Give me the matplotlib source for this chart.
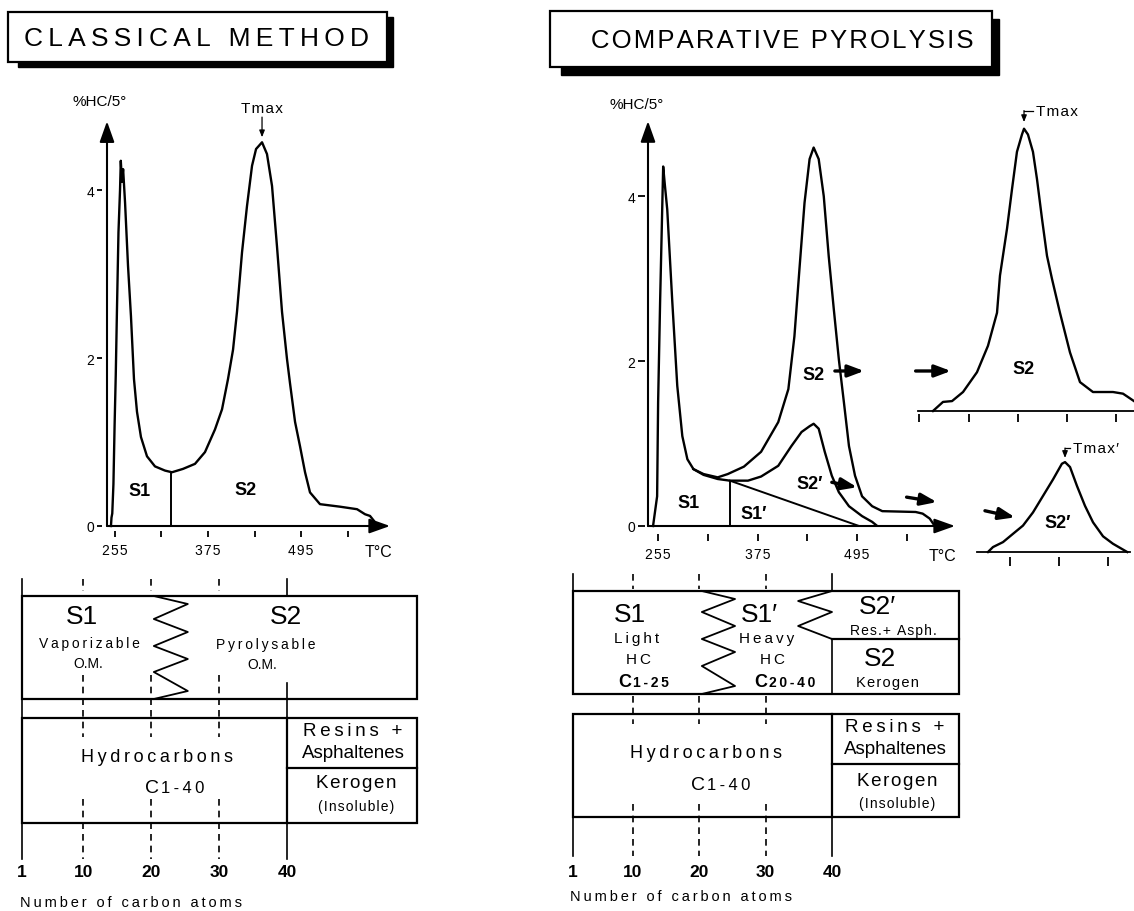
import matplotlib
matplotlib.use("Agg")
import matplotlib.pyplot as plt
from matplotlib.patches import Rectangle

plt.rcParams["font.family"] = ["Liberation Sans", "DejaVu Sans"]

W, H = 1134, 912
NARROW = ["Liberation Sans Narrow", "Liberation Sans", "DejaVu Sans"]
THIN, HAIR = "\u2009", "\u200a"

# ---------------- pyrograms: temperature (deg C) vs %HC / 5 deg ----------------
classic_T = [249.8, 250.5, 251.5, 253.0, 254.5, 256.0, 257.6, 259.5, 261.5, 262.5,
             264.0, 265.5, 268.0, 271.8, 275.6, 279.5, 283.4, 288.5, 296.3, 306.6,
             319.5, 328.5, 342.7, 358.2, 371.1, 384.0, 393.1, 400.8, 407.3, 412.4,
             418.9, 425.3, 431.8, 437.0, 444.7, 451.1, 457.6, 464.0, 470.5, 476.9,
             480.8, 487.3, 493.7, 500.2, 506.6, 519.5, 545.3, 567.3, 577.6, 584.0,
             589.2, 593.1]
classic_hc = [0.0, 0.1, 0.15, 0.5, 1.2, 1.8, 2.6, 3.5, 4.0, 4.35,
              4.1, 4.25, 3.85, 3.1, 2.5, 1.75, 1.36, 1.06, 0.83, 0.71,
              0.66, 0.64, 0.68, 0.74, 0.88, 1.15, 1.39, 1.75, 2.1, 2.55,
              3.26, 3.81, 4.29, 4.49, 4.57, 4.43, 4.05, 3.33, 2.55, 1.99,
              1.7, 1.24, 0.95, 0.64, 0.4, 0.26, 0.23, 0.2, 0.14, 0.12,
              0.06, 0.0]
classic_split_T = 327
classic_split_hc = 0.64
classic_tmax = (444.7, 4.57)

comp_total_T = [248.9, 253.8, 255.0, 257.4, 261.1, 263.0, 266.0, 272.1, 278.1, 284.2,
                290.3, 297.6, 309.8, 326.9, 339.0, 358.5, 379.2, 399.9, 412.1, 419.4,
                425.5, 431.6, 437.7, 442.6, 448.7, 454.8, 460.8, 466.9, 473.0, 479.1,
                485.2, 492.5, 501.0, 513.2, 525.4, 565.6, 574.1, 582.6, 588.7]
comp_total_hc = [0.0, 0.36, 1.5, 2.72, 4.36, 4.15, 3.84, 2.72, 1.70, 1.09,
                 0.81, 0.69, 0.63, 0.59, 0.63, 0.72, 0.90, 1.26, 1.66, 2.30,
                 3.12, 3.92, 4.45, 4.59, 4.45, 4.0, 3.27, 2.63, 2.02, 1.50,
                 0.97, 0.61, 0.36, 0.24, 0.18, 0.17, 0.15, 0.09, 0.0]
comp_heavy_T = [297.6, 309.8, 326.9, 341.5, 363.4, 379.2, 399.9, 415.8, 428.0, 437.7,
                442.6, 448.7, 456.0, 464.5, 473.0, 485.2, 501.0, 513.2, 519.3]
comp_heavy_hc = [0.69, 0.62, 0.57, 0.55, 0.55, 0.60, 0.73, 0.97, 1.14, 1.21,
                 1.24, 1.18, 0.90, 0.61, 0.41, 0.24, 0.12, 0.05, 0.0]
comp_split_T = 341.5
comp_split_hc = 0.55
comp_diag_end_T = 497.4

# magnified S2 and S2' peaks
inset_s2_T = [331.7, 343.9, 354.9, 368.3, 385.3, 398.7, 409.7, 413.3, 421.9, 428.0,
              434.0, 440.1, 442.6, 447.4, 453.5, 458.4, 464.5, 470.6, 476.7, 486.4,
              498.6, 510.8, 526.6, 551.0, 563.2, 569.2, 576.6]
inset_s2_hc = [0.0, 0.11, 0.12, 0.23, 0.47, 0.79, 1.19, 1.64, 2.21, 2.69,
               3.14, 3.35, 3.42, 3.35, 3.14, 2.81, 2.33, 1.88, 1.60, 1.19,
               0.71, 0.35, 0.23, 0.23, 0.21, 0.17, 0.12]
inset_s2p_T = [348.8, 354.9, 367.1, 379.2, 391.4, 403.6, 415.8, 428.0, 438.8, 442.6,
               448.7, 457.2, 466.9, 476.7, 488.9, 501.0, 518.3]
inset_s2p_hc = [0.0, 0.06, 0.12, 0.22, 0.32, 0.48, 0.68, 0.88, 1.07, 1.09,
                1.03, 0.80, 0.56, 0.36, 0.19, 0.10, 0.0]

temp_ticks = [255, 315, 375, 435, 495, 555]
temp_labels = ["255", "", "375", "", "495", ""]
hc_ticks = [0, 2, 4]

# ---------------- carbon-number boxes ----------------
carbon_ticks = [1, 10, 20, 30, 40]


def spaced(s, gap=THIN):
    return gap.join(s)


fig = plt.figure(figsize=(W / 100, H / 100), dpi=100)


def px_axes(x0, y0, x1, y1):
    ax = fig.add_axes([x0 / W, 1 - y1 / H, (x1 - x0) / W, (y1 - y0) / H])
    ax.patch.set_visible(False)
    return ax


AX_ARROW = dict(arrowstyle="-|>,head_length=0.9,head_width=0.32", lw=1.5,
                color="black", shrinkA=0, shrinkB=0, mutation_scale=14)
BOLD_ARROW = dict(arrowstyle="-|>,head_length=0.8,head_width=0.3", lw=2.4,
                  color="black", shrinkA=0, shrinkB=0, mutation_scale=12)
SMALL_ARROW = dict(arrowstyle="-|>,head_length=0.5,head_width=0.2", lw=0.9,
                   color="black", shrinkA=0, shrinkB=0, mutation_scale=8)


def style_chart(ax, xlim, ytop, yarrow, x_out, x_len, y_out, y_len):
    ax.set_xticks(temp_ticks, [spaced(t, HAIR) for t in temp_labels], fontsize=11)
    ax.set_yticks(hc_ticks, [str(v) for v in hc_ticks], fontsize=11)
    ax.set_xlim(xlim)
    ax.set_ylim(0, ytop)
    for side in ["top", "right", "bottom", "left"]:
        ax.spines[side].set_visible(False)
    ax.spines["bottom"].set_position(("outward", x_out * 0.72))
    ax.spines["left"].set_position(("outward", y_out * 0.72))
    ax.tick_params(axis="x", length=x_len * 0.72, width=1.3, pad=4)
    ax.tick_params(axis="y", length=y_len * 0.72, width=1.3, pad=2)
    ax.annotate("", xy=(xlim[1], 0), xytext=(xlim[0], 0),
                arrowprops=AX_ARROW, annotation_clip=False)
    ax.annotate("", xy=(xlim[0], yarrow), xytext=(xlim[0], 0),
                arrowprops=AX_ARROW, annotation_clip=False)


def style_inset(ax, xlim, ytop, base, out, length):
    ticks = [t for t in temp_ticks if xlim[0] <= t <= xlim[1]]
    ax.set_xticks(ticks, [""] * len(ticks))
    ax.set_yticks([])
    ax.set_xlim(xlim)
    ax.set_ylim(0, ytop)
    for side in ["top", "right", "bottom", "left"]:
        ax.spines[side].set_visible(False)
    ax.spines["bottom"].set_position(("outward", out * 0.72))
    ax.tick_params(axis="x", length=length * 0.72, width=1.3)
    ax.plot(base, [0, 0], color="black", lw=1.3, clip_on=False)


def chart_label(ax, x, y, s):
    ax.text(x, y, s, ha="center", va="center", fontsize=13,
            fontweight="bold", family=NARROW)


def tmax_bracket(ax, x, y_top, y_tip, x_right, text):
    ax.plot([x, x_right], [y_top, y_top], color="black", lw=0.9, clip_on=False)
    ax.annotate("", xy=(x, y_tip), xytext=(x, y_top), annotation_clip=False,
                arrowprops=SMALL_ARROW)
    ax.text(x_right + 4, y_top, spaced(text, HAIR), ha="left", va="center",
            fontsize=11)


# ---------------- title boxes ----------------
axO = fig.add_axes([0, 0, 1, 1])
axO.set_xlim(0, W)
axO.set_ylim(H, 0)
axO.axis("off")
for (x0, y0, x1, y1, dx, dy, tx, title, size, gap) in [
        (8, 13, 387, 63, 6, 5, 197, "CLASSICAL METHOD", 19, THIN),
        (550, 12, 992, 68, 7, 8, 782, "COMPARATIVE PYROLYSIS", 18.5, HAIR)]:
    axO.add_patch(Rectangle((x0 + dx + 4, y0 + dy), x1 - x0 - 4, y1 - y0,
                            facecolor="black", edgecolor="black"))
    axO.add_patch(Rectangle((x0, y0), x1 - x0, y1 - y0, facecolor="white",
                            edgecolor="black", lw=1.6))
    axO.text(tx, (y0 + y1) / 2 + 1, spaced(title, gap), ha="center",
             va="center", fontsize=size)

# ---------------- classical pyrogram ----------------
axL = px_axes(107, 82, 390, 527)
style_chart(axL, (244.7, 609.8), 5.3, 4.82, 5, 6, 5, 5)
axL.plot(classic_T, classic_hc, color="black", lw=1.7, clip_on=False)
axL.plot([classic_split_T, classic_split_T], [0, classic_split_hc],
         color="black", lw=1.4)
chart_label(axL, 287, 0.42, "S1")
chart_label(axL, 423, 0.44, "S2")
axL.text(235.6, 5.06, "%HC/5°", ha="center", va="center", fontsize=11)
axL.text(594.4, -0.30, "T°C", ha="center", va="center", fontsize=11.5)
axL.text(classic_tmax[0], 4.98, spaced("Tmax", HAIR), ha="center", va="center",
         fontsize=11)
axL.annotate("", xy=(classic_tmax[0], 4.63), xytext=(classic_tmax[0], 4.87),
             arrowprops=SMALL_ARROW)

# ---------------- comparative pyrogram ----------------
axR = px_axes(648, 90, 955, 527)
style_chart(axR, (242.8, 613.1), 5.3, 4.91, 8, 7, 3, 7)
axR.plot(comp_total_T, comp_total_hc, color="black", lw=1.7, clip_on=False)
axR.plot(comp_heavy_T, comp_heavy_hc, color="black", lw=1.7)
axR.plot([comp_split_T, comp_split_T], [0, comp_split_hc], color="black", lw=1.4)
axR.plot([comp_split_T, comp_diag_end_T], [comp_split_hc, 0], color="black", lw=1.4)
chart_label(axR, 291.5, 0.29, "S1")
chart_label(axR, 370.7, 0.15, "S1\u2032")
chart_label(axR, 437.7, 0.51, "S2\u2032")
chart_label(axR, 442.6, 1.84, "S2")
axR.text(229.4, 5.12, "%HC/5°", ha="center", va="center", fontsize=11)
axR.text(598.5, -0.36, "T°C", ha="center", va="center", fontsize=11.5)
for (xa, ya, xb, yb) in [(468.2, 1.88, 503.5, 1.88), (565.6, 1.88, 608.2, 1.88),
                         (464.5, 0.53, 495.0, 0.47), (554.7, 0.35, 591.2, 0.29)]:
    axR.annotate("", xy=(xb, yb), xytext=(xa, ya), arrowprops=BOLD_ARROW,
                 annotation_clip=False)

# ---------------- magnified peaks ----------------
axI1 = px_axes(905, 100, 1134, 412)
style_inset(axI1, (297.6, 576.6), 3.78, [313.5, 576.6], 3, 8)
axI1.plot(inset_s2_T, inset_s2_hc, color="black", lw=1.7, clip_on=False)
chart_label(axI1, 441.4, 0.51, "S2")
tmax_bracket(axI1, 442.6, 3.64, 3.50, 453.5, "Tmax")

axI2 = px_axes(970, 440, 1134, 553)
style_inset(axI2, (326.9, 526.6), 1.37, [335.4, 521.7], 5, 9)
axI2.plot(inset_s2p_T, inset_s2p_hc, color="black", lw=1.7, clip_on=False)
chart_label(axI2, 434.0, 0.36, "S2\u2032")
tmax_bracket(axI2, 442.6, 1.26, 1.14, 448.7, "Tmax\u2032")
axI2.annotate("", xy=(381.7, 0.42), xytext=(345.1, 0.50), arrowprops=BOLD_ARROW,
              annotation_clip=False)


# ---------------- carbon-number boxes ----------------
def box_axes(x0, c_left, c_px):
    ax = px_axes(x0, 570, x0 + 574, 912)
    ax.set_xlim(c_left, c_left + 574 / c_px)
    ax.set_ylim(912, 570)
    ax.axis("off")
    return ax


def draw_boxes(ax, top, bot, low_top, low_bot, split_y, right_c,
               solid_spans, dash_spans):
    for c in carbon_ticks:
        spans = solid_spans[c] if c in solid_spans else dash_spans
        style = "-" if c in solid_spans else (0, (4, 3))
        for (ya, yb) in spans:
            ax.plot([c, c], [ya, yb], color="black", lw=1.2, linestyle=style)
    ax.add_patch(Rectangle((1, top), right_c - 1, bot - top, fill=False,
                           edgecolor="black", lw=1.6))
    ax.add_patch(Rectangle((1, low_top), right_c - 1, low_bot - low_top,
                           fill=False, edgecolor="black", lw=1.6))
    ax.plot([40, 40], [low_top, low_bot], color="black", lw=1.6)
    ax.plot([40, right_c], [split_y, split_y], color="black", lw=1.6)
    for c in carbon_ticks:
        ax.text(c, 873, str(c), ha="center", va="center", fontsize=12.5,
                fontweight="bold")


def white_text(ax, x, y, s, size, **kw):
    ax.text(x, y, s, ha="center", va="center", fontsize=size,
            bbox=dict(facecolor="white", edgecolor="none", pad=0.5), **kw)


def carbon_range(ax, x, y, c_size, n_size, digits, weight="normal"):
    ax.text(x, y, "C", ha="right", va="baseline", fontsize=c_size, fontweight=weight)
    ax.text(x + 0.3, y, spaced(digits), ha="left", va="baseline",
            fontsize=n_size, fontweight=weight)


def plain(ax, x, y, s, size):
    ax.text(x, y, s, ha="center", va="center", fontsize=size)


# left (classical)
axBL = box_axes(0, 1 - 22 / 6.795, 6.795)
draw_boxes(axBL, 597, 700, 719, 824, 769, 59.1,
           {1: [(580, 860)], 40: [(580, 597), (684, 860)]},
           [(580, 592), (676, 738), (800, 860)])
zig_c = [20.4, 25.4, 20.4, 25.4, 20.4, 25.4, 20.4, 25.4, 20.4]
axBL.plot(zig_c, [597, 605, 620, 633, 647, 660, 673, 692, 700], color="black", lw=1.3)
plain(axBL, 9.8, 617, "S1", 19)
white_text(axBL, 10.9, 644, spaced("Vaporizable"), 10)
white_text(axBL, 10.7, 664, "O.M.", 10)
white_text(axBL, 39.9, 617, "S2", 19)
white_text(axBL, 36.8, 645, spaced("Pyrolysable"), 10)
white_text(axBL, 36.3, 665, "O.M.", 10)
white_text(axBL, 20.9, 757, spaced("Hydrocarbons"), 13)
carbon_range(axBL, 21.1, 793, 14, 12, "1-40")
plain(axBL, 49.7, 732, spaced("Resins +"), 13.5)
plain(axBL, 49.7, 753, "Asphaltenes", 13.5)
plain(axBL, 50.2, 784, spaced("Kerogen", HAIR), 13.5)
plain(axBL, 50.2, 807, spaced("(Insoluble)", HAIR), 10)
axBL.text(0.7, 903, spaced("Number of carbon atoms"), ha="left", va="center",
          fontsize=10.5)

# right (comparative)
axBR = box_axes(560, 1 - 13 / 6.641, 6.641)
draw_boxes(axBR, 592, 695, 715, 818, 765, 59.1,
           {1: [(575, 592), (818, 857)], 40: [(575, 592), (640, 695), (818, 857)]},
           [(575, 590), (697, 725), (805, 857)])
axBR.plot(zig_c, [592, 600, 613, 627, 640, 653, 667, 687, 695], color="black", lw=1.3)
axBR.plot([40, 34.9, 40, 34.9, 40], [592, 602, 613, 627, 640], color="black", lw=1.3)
axBR.plot([40, 59.1], [640, 640], color="black", lw=1.6)
plain(axBR, 9.6, 615, "S1", 19)
plain(axBR, 10.6, 639, spaced("Light"), 11)
plain(axBR, 10.9, 660, spaced("HC"), 11)
carbon_range(axBR, 9.8, 687, 13, 10, "1-25", "bold")
plain(axBR, 29.0, 615, "S1\u2032", 19)
plain(axBR, 30.2, 639, spaced("Heavy"), 11)
plain(axBR, 31.1, 660, spaced("HC"), 11)
carbon_range(axBR, 30.2, 687, 13, 10, "20-40", "bold")
plain(axBR, 46.9, 607, "S2\u2032", 19)
plain(axBR, 49.2, 631, spaced("Res.+ Asph.", HAIR), 10)
plain(axBR, 47.2, 659, "S2", 19)
plain(axBR, 48.3, 683, spaced("Kerogen", HAIR), 10.5)
white_text(axBR, 21.0, 754, spaced("Hydrocarbons"), 13)
carbon_range(axBR, 20.9, 790, 14, 12, "1-40")
plain(axBR, 49.5, 727, spaced("Resins +"), 13.5)
plain(axBR, 49.5, 749, "Asphaltenes", 13.5)
plain(axBR, 49.9, 782, spaced("Kerogen", HAIR), 13.5)
plain(axBR, 49.8, 804, spaced("(Insoluble)", HAIR), 10)
axBR.text(0.6, 897, spaced("Number of carbon atoms"), ha="left", va="center",
          fontsize=10.5)

fig.savefig("out.png", dpi=100)
